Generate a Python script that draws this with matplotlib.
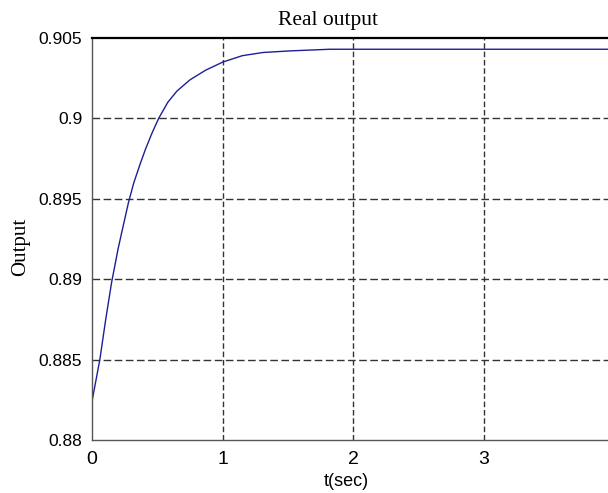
import numpy as np
import matplotlib
matplotlib.use("Agg")
from matplotlib import pyplot as plt

# values
t_sec = [0.0, 0.06, 0.105, 0.15, 0.20, 0.23, 0.28, 0.32, 0.37, 0.41, 0.46, 0.51,
         0.58, 0.65, 0.75, 0.87, 1.0, 1.15, 1.31, 1.52, 1.82, 2.2, 5.0]
output = [0.8824, 0.8850, 0.8875, 0.8898, 0.8919, 0.8930, 0.8948, 0.8960, 0.8972,
          0.8981, 0.8991, 0.9000, 0.9010, 0.9017, 0.9024, 0.9030, 0.9035, 0.9039,
          0.9041, 0.9042, 0.9043, 0.9043, 0.9043]
xticks = [0, 1, 2, 3]
grid_x = [1, 2, 3, 4]
yticks = [0.88, 0.885, 0.89, 0.895, 0.9, 0.905]
ytick_labels = ['0.88', '0.885', '0.89', '0.895', '0.9', '0.905']

W, H = 608, 493
fig = plt.figure(figsize=(W / 100, H / 100), dpi=100)
px_unit = 130.67
ax = fig.add_axes([92 / W, (H - 440) / H, 5 * px_unit / W, (440 - 38) / H])

ax.plot(t_sec, output, color='#1e1e96', lw=1.0)
ax.set_xlim(0, 5)
ax.set_ylim(0.88, 0.905)
ax.set_xticks(xticks)
ax.set_xticklabels([str(v) for v in xticks], fontsize=14, family='Liberation Sans')
ax.set_yticks(yticks)
ax.set_yticklabels(ytick_labels, fontsize=12.5, family='Liberation Sans')
ax.tick_params(length=0)
ax.tick_params(axis='y', pad=7)
ax.tick_params(axis='x', pad=8)

for y in yticks[1:-1]:
    ax.axhline(y, color='#333333', lw=1.0, ls=(0, (5.5, 2.5)), zorder=0)
for x in grid_x:
    ax.axvline(x, color='#333333', lw=1.0, ls=(0, (4, 2)), zorder=0)

for s in ['left', 'bottom']:
    ax.spines[s].set_color('#555555')
    ax.spines[s].set_linewidth(1.0)
ax.spines['top'].set_color('black')
ax.spines['top'].set_linewidth(1.6)
ax.spines['right'].set_visible(False)

fig.text(328 / W, 1 - 20 / H, 'Real output', ha='center', va='center',
         fontsize=15.5, family='Liberation Serif')
fig.text(346 / W, 1 - 482 / H, 't(sec)', ha='center', va='center',
         fontsize=13, family='Liberation Sans')
fig.text(21 / W, 1 - 247 / H, 'Output', ha='center', va='center', rotation=90,
         fontsize=15, family='Liberation Serif')

fig.savefig('out.png', dpi=100)
